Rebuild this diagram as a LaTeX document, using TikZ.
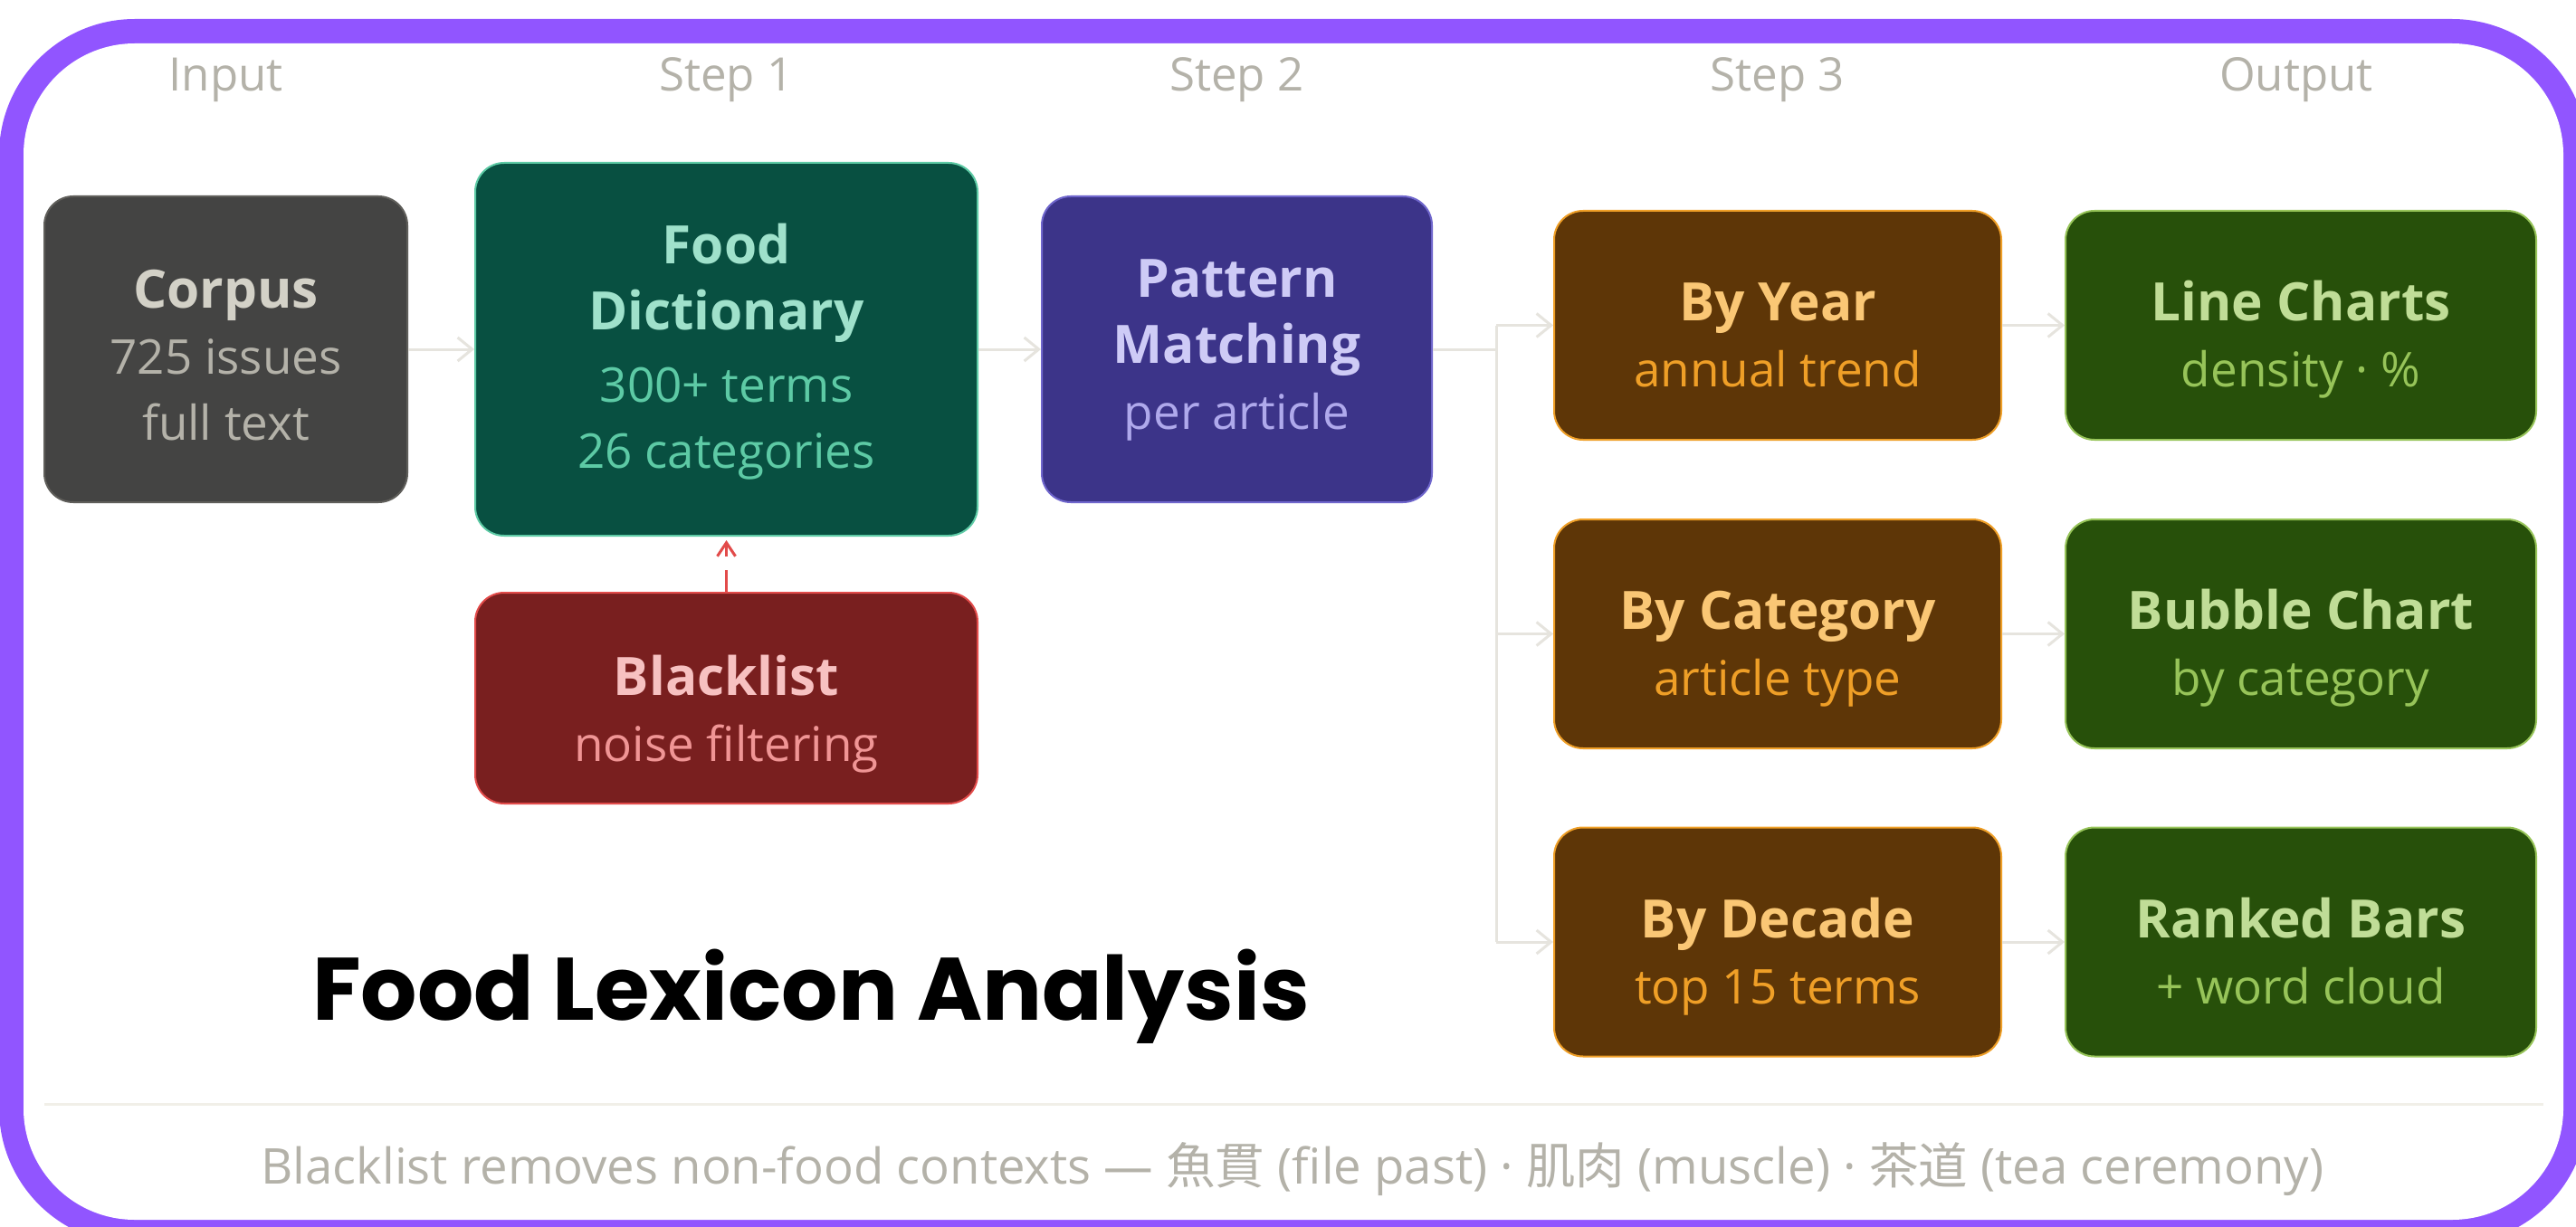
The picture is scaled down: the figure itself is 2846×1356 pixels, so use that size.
\documentclass[tikz,border=0pt]{standalone}
\usepackage{fontspec}
\setmainfont{Open Sans}
\newfontfamily\titlefont{Poppins}
\newfontfamily\cjk{Noto Sans CJK JP}
\usetikzlibrary{arrows.meta}

% palette
\definecolor{framepurple}{HTML}{9155FF}
\definecolor{labelgray}{HTML}{B4B2A9}
\definecolor{flowgray}{HTML}{E6E4DE}
\definecolor{sepgray}{HTML}{F1EFE8}
\definecolor{grayfill}{HTML}{444443}
\definecolor{grayedge}{HTML}{5F5E5A}
\definecolor{grayhd}{HTML}{D3D1C7}
\definecolor{graysb}{HTML}{B4B2A9}
\definecolor{tealfill}{HTML}{085041}
\definecolor{tealedge}{HTML}{5DCAA5}
\definecolor{tealhd}{HTML}{9FE1CB}
\definecolor{tealsb}{HTML}{5DCAA5}
\definecolor{indfill}{HTML}{3C3489}
\definecolor{indedge}{HTML}{6F66CC}
\definecolor{indhd}{HTML}{CECBF6}
\definecolor{indsb}{HTML}{AFA9EC}
\definecolor{redfill}{HTML}{791F1F}
\definecolor{rededge}{HTML}{E24B4A}
\definecolor{redhd}{HTML}{F7C1C1}
\definecolor{redsb}{HTML}{F09595}
\definecolor{amberfill}{HTML}{5E3607}
\definecolor{amberedge}{HTML}{EF9F27}
\definecolor{amberhd}{HTML}{FAC775}
\definecolor{ambersb}{HTML}{EF9F27}
\definecolor{greenfill}{HTML}{27500A}
\definecolor{greenedge}{HTML}{97C459}
\definecolor{greenhd}{HTML}{C0DD97}
\definecolor{greensb}{HTML}{97C459}

% text helpers for box lines
\newcommand\hdr[2]{{\color{#1}\bfseries\fontsize{58.5}{73}\selectfont #2}}
\newcommand\sbt[2]{{\color{#1}#2}}
\newcommand\topgap[1]{\rule{0pt}{#1pt}}
\newcommand\botgap{\rule[-14pt]{0pt}{14pt}}

\tikzset{
  box/.style={rounded corners=32pt, line width=2pt, inner sep=0pt, align=center,
    font=\fontsize{53}{73}\selectfont},
  graybox/.style={box, fill=grayfill, draw=grayedge},
  tealbox/.style={box, fill=tealfill, draw=tealedge},
  indbox/.style={box, fill=indfill, draw=indedge},
  redbox/.style={box, fill=redfill, draw=rededge},
  amberbox/.style={box, fill=amberfill, draw=amberedge, minimum width=494pt, minimum height=253pt},
  greenbox/.style={box, fill=greenfill, draw=greenedge, minimum width=520pt, minimum height=253pt},
  colhead/.style={anchor=base, text=labelgray, font=\fontsize{51}{60}\selectfont},
  flow/.style={draw=flowgray, line width=3pt},
  flowarrow/.style={flow, -{Straight Barb[length=16pt,width=26pt,line width=3pt]}},
  filterarrow/.style={draw=rededge, line width=3pt, dash pattern=on 24pt off 15pt,
    -{Straight Barb[length=15pt,width=20pt,line width=3pt]}, shorten >=4pt},
}

\begin{document}
\begin{tikzpicture}[x=1pt, y=-1pt]
  \useasboundingbox (0,0) rectangle (2846,1356);
  \fill[white] (0,0) rectangle (2846,1356);

  % rounded purple frame
  \fill[framepurple, rounded corners=150pt] (-1,21) rectangle (2859,1375);
  \fill[white, rounded corners=123pt] (26,48) rectangle (2832,1348);

  % column headings
  \node[colhead] (hin)  at (249.5,101) {Input};
  \node[colhead] (hs1)  at (802.5,101) {Step 1};
  \node[colhead] (hs2)  at (1366.5,101) {Step 2};
  \node[colhead] (hs3)  at (1964,101) {Step 3};
  \node[colhead] (hout) at (2537,101) {Output};

  % input and steps 1-2
  \node[graybox, minimum width=401pt, minimum height=338pt] (corpus) at (249.5,386)
    {\topgap{69}\hdr{grayhd}{Corpus}\\ \sbt{graysb}{725 issues}\\ \sbt{graysb}{full text}\botgap};
  \node[tealbox, minimum width=555pt, minimum height=412pt] (dict) at (802.5,386)
    {\topgap{50}\hdr{tealhd}{Food}\\ \hdr{tealhd}{Dictionary}\\[7pt] \sbt{tealsb}{300+ terms}\\ \sbt{tealsb}{26 categories}\botgap};
  \node[redbox, minimum width=555pt, minimum height=233pt] (black) at (802.5,771.5)
    {\topgap{81}\hdr{redhd}{Blacklist}\\ \sbt{redsb}{noise filtering}\botgap};
  \node[indbox, minimum width=431pt, minimum height=338pt] (match) at (1366.5,386)
    {\topgap{45}\hdr{indhd}{Pattern}\\ \hdr{indhd}{Matching}\\ \sbt{indsb}{per article}\botgap};

  % step 3 aggregations
  \node[amberbox] (year) at (1964,359.5)
    {\topgap{77}\hdr{amberhd}{By Year}\\ \sbt{ambersb}{annual trend}\botgap};
  \node[amberbox] (cat) at (1964,700.5)
    {\topgap{77}\hdr{amberhd}{By Category}\\ \sbt{ambersb}{article type}\botgap};
  \node[amberbox] (decade) at (1964,1041)
    {\topgap{77}\hdr{amberhd}{By Decade}\\ \sbt{ambersb}{top 15 terms}\botgap};

  % outputs
  \node[greenbox] (lines) at (2542,359.5)
    {\topgap{77}\hdr{greenhd}{Line Charts}\\ \sbt{greensb}{density · \%}\botgap};
  \node[greenbox] (bubble) at (2542,700.5)
    {\topgap{77}\hdr{greenhd}{Bubble Chart}\\ \sbt{greensb}{by category}\botgap};
  \node[greenbox] (bars) at (2542,1041)
    {\topgap{77}\hdr{greenhd}{Ranked Bars}\\ \sbt{greensb}{+ word cloud}\botgap};

  % connectors
  \draw[flowarrow] (corpus.east) -- (dict.west);
  \draw[flowarrow] (dict.east) -- (match.west);
  \coordinate (split) at (1653,386);
  \coordinate (splittop) at (1653,359.5);
  \coordinate (splitmid) at (1653,700.5);
  \coordinate (splitbot) at (1653,1041);
  \draw[flow] (match.east) -- (split);
  \draw[flow] (splittop) -- (splitbot);
  \draw[flowarrow] (splittop) -- (year.west);
  \draw[flowarrow] (splitmid) -- (cat.west);
  \draw[flowarrow] (splitbot) -- (decade.west);
  \draw[flowarrow] (year.east) -- (lines.west);
  \draw[flowarrow] (cat.east) -- (bubble.west);
  \draw[flowarrow] (decade.east) -- (bars.west);
  \draw[filterarrow] (black.north) -- (dict.south);

  % title
  \node[anchor=base, text=black, font=\titlefont\bfseries\fontsize{98}{112}\selectfont] (title)
    at (896,1127) {Food Lexicon Analysis};

  % footer rule and note
  \coordinate (sepl) at (49,1220);
  \coordinate (sepr) at (2810,1220);
  \draw[draw=sepgray, line width=3pt] (sepl) -- (sepr);
  \node[anchor=base, text=labelgray, font=\fontsize{54.5}{62}\selectfont] (note) at (1428,1308)
    {Blacklist removes non-food contexts — {\cjk 魚貫} (file past) · {\cjk 肌肉} (muscle) · {\cjk 茶道} (tea ceremony)};
\end{tikzpicture}
\end{document}
